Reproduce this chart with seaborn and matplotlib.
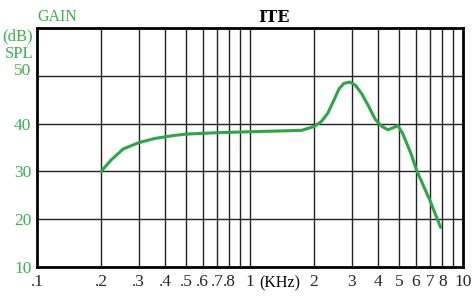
import matplotlib
matplotlib.use("Agg")
import matplotlib.pyplot as plt
import seaborn as sns
import pandas as pd

# ---- data ----
freq_khz = [0.2, 0.223, 0.254, 0.3, 0.358, 0.437, 0.5, 0.7, 1.0, 1.5, 1.75, 2.0,
            2.16, 2.32, 2.49, 2.62, 2.76, 2.94, 3.13, 3.35, 3.59, 3.87, 4.17, 4.44,
            4.74, 4.94, 5.2, 5.7, 6.06, 7.0, 7.85]
gain_db = [30.0, 32.4, 34.7, 36.0, 36.9, 37.5, 37.8, 38.1, 38.3, 38.5, 38.6, 39.4,
           40.4, 42.2, 45.1, 47.3, 48.4, 48.7, 48.0, 46.2, 43.8, 40.9, 39.4, 38.7,
           39.2, 39.6, 38.0, 33.7, 30.2, 23.9, 18.3]

x_ticks = [0.1, 0.2, 0.3, 0.4, 0.5, 0.6, 0.7, 0.8, 1, 2, 3, 4, 5, 6, 7, 8, 10]
x_labels = [".1", ".2", ".3", ".4", ".5", ".6", ".7", ".8", "1", "2", "3", "4", "5", "6", "7", "8", "10"]
x_grid = [0.2, 0.3, 0.4, 0.5, 0.6, 0.7, 0.8, 0.9, 1, 2, 3, 4, 5, 6, 7, 8, 9]
y_ticks = [10, 20, 30, 40, 50]

GREEN_TXT = "#3cb050"
GREEN_LINE = "#2ea548"

df = pd.DataFrame({"freq": freq_khz, "gain": gain_db})

sns.set_style("white")
plt.rcParams["font.family"] = ["Liberation Serif", "DejaVu Serif"]

fig = plt.figure(figsize=(4.75, 2.97), dpi=100)
ax = fig.add_axes([37 / 475, 30 / 297, 426 / 475, 239 / 297])

ax.set_xscale("log")
ax.set_xlim(0.1, 10)
ax.set_ylim(10, 60)

for gx in x_grid:
    ax.axvline(gx, color="#222222", lw=1.0, zorder=1)
for gy in y_ticks[1:]:
    ax.axhline(gy, color="#222222", lw=1.0, zorder=1)

sns.lineplot(data=df, x="freq", y="gain", ax=ax, color=GREEN_LINE, lw=2.2, zorder=3,
             solid_joinstyle="round", solid_capstyle="round")

ax.set_xticks(x_ticks)
ax.set_xticklabels(x_labels, fontsize=12.5)
ax.xaxis.set_minor_locator(matplotlib.ticker.NullLocator())
ax.set_yticks(y_ticks)
ax.set_yticklabels([str(v) for v in y_ticks], fontsize=12.5, color=GREEN_TXT)
ax.tick_params(axis="both", length=0, pad=5)
ax.tick_params(axis="y", pad=4)
ax.set_xlabel("")
ax.set_ylabel("")

# the "50" label sits a little above its grid line in the original
lab50 = ax.get_yticklabels()[-1]
lab50.set_transform(lab50.get_transform() + matplotlib.transforms.ScaledTranslation(0, 7 / 100, fig.dpi_scale_trans))

for s in ax.spines.values():
    s.set_color("black")
    s.set_linewidth(2)

# labels around the plot
fig.text(37 / 475, 1 - 17 / 297, "GAIN", color=GREEN_TXT, fontsize=11.5, va="center", ha="left")
fig.text(33 / 475, 1 - 36 / 297, "(dB)", color=GREEN_TXT, fontsize=12, va="center", ha="right")
fig.text(33 / 475, 1 - 54 / 297, "SPL", color=GREEN_TXT, fontsize=12, va="center", ha="right")
fig.text(274 / 475, 1 - 17 / 297, "ITE", color="black", fontsize=11.5, fontweight="bold",
         family="DejaVu Serif", va="center", ha="center")
fig.text(280 / 475, 1 - 283 / 297, "(KHz)", color="black", fontsize=11.5, va="center", ha="center")

fig.savefig("out.png", dpi=100)
